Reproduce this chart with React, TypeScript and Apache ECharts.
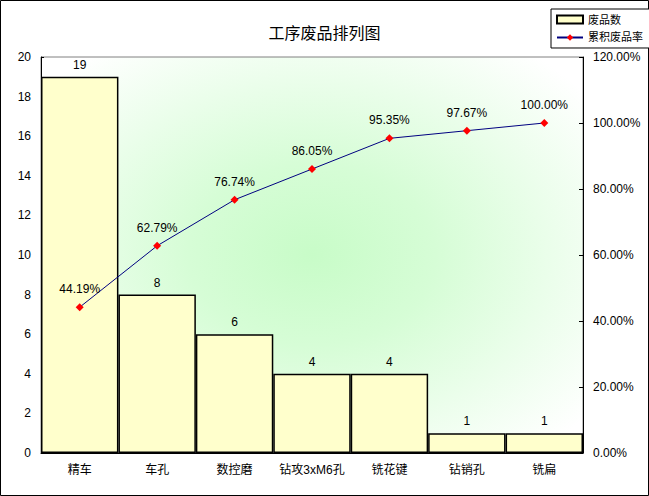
import React, { useEffect, useRef } from "react";
import * as echarts from "echarts";

const categories = ["精车", "车孔", "数控磨", "钻攻3xM6孔", "铣花键", "钻销孔", "铣扁"];
const defectCounts = [19, 8, 6, 4, 4, 1, 1];
const cumulativePct = [44.19, 62.79, 76.74, 86.05, 95.35, 97.67, 100.0];
const countTicks = { min: 0, max: 20, interval: 2 };
const pctTicks = { min: 0, max: 120, interval: 20 };

const FONT = "'Liberation Sans', 'Noto Sans CJK SC', sans-serif";

export default function App() {
  const ref = useRef<HTMLDivElement>(null);
  useEffect(() => {
    if (!ref.current) return;
    const chart = echarts.init(ref.current, undefined, { renderer: "svg" });
    chart.setOption({
      animation: false,
      backgroundColor: "#ffffff",
      textStyle: { fontFamily: FONT, color: "#000" },
      title: {
        text: "工序废品排列图",
        left: "center",
        top: 20,
        textStyle: { fontSize: 16, fontWeight: "normal", color: "#000", fontFamily: FONT },
      },
      legend: {
        orient: "vertical",
        left: 551,
        top: 9,
        backgroundColor: "#fff",
        borderColor: "#000",
        borderWidth: 1,
        padding: [5, 8, 5, 5],
        itemWidth: 26,
        itemHeight: 8,
        itemGap: 7,
        textStyle: { fontSize: 11, color: "#000", fontFamily: FONT },
        data: [{ name: "废品数", icon: "rect" }, { name: "累积废品率" }],
      },
      graphic: [
        {
          type: "rect",
          shape: { x: 0.5, y: 0.5, width: 648, height: 495 },
          style: { fill: "none", stroke: "#000", lineWidth: 1 },
          silent: true,
        },
      ],
      grid: {
        left: 41,
        right: 66,
        top: 57,
        bottom: 43,
        show: true,
        borderColor: "#808080",
        borderWidth: 1,
        backgroundColor: new echarts.graphic.RadialGradient(0.5, 0.5, 0.65, [
          { offset: 0, color: "#c8fcc8" },
          { offset: 0.35, color: "#d6fdd6" },
          { offset: 1, color: "#ffffff" },
        ]),
      },
      xAxis: {
        type: "category",
        data: categories,
        axisLine: { lineStyle: { color: "#000", width: 1 } },
        axisTick: { show: false },
        axisLabel: { color: "#000", fontSize: 12, margin: 11, fontFamily: FONT, interval: 0 },
      },
      yAxis: [
        {
          type: "value",
          min: countTicks.min,
          max: countTicks.max,
          interval: countTicks.interval,
          splitLine: { show: false },
          axisLine: { show: true, lineStyle: { color: "#000", width: 1 } },
          axisTick: { show: true, inside: true, length: 3, lineStyle: { color: "#000" } },
          axisLabel: { color: "#000", fontSize: 12, margin: 10, fontFamily: FONT },
        },
        {
          type: "value",
          min: pctTicks.min,
          max: pctTicks.max,
          interval: pctTicks.interval,
          splitLine: { show: false },
          axisLine: { show: true, lineStyle: { color: "#000", width: 1 } },
          axisTick: { show: true, inside: true, length: 4, lineStyle: { color: "#000" } },
          axisLabel: {
            color: "#000",
            fontSize: 12,
            margin: 10,
            fontFamily: FONT,
            formatter: (v: number) => v.toFixed(2) + "%",
          },
        },
      ],
      series: [
        {
          name: "废品数",
          type: "bar",
          data: defectCounts,
          barWidth: "100%",
          barCategoryGap: "0%",
          itemStyle: { color: "#ffffcc", borderColor: "#000", borderWidth: 1.5 },
          label: {
            show: true,
            position: "top",
            distance: 6,
            color: "#000",
            fontSize: 12,
            fontFamily: FONT,
          },
        },
        {
          name: "累积废品率",
          type: "line",
          yAxisIndex: 1,
          data: cumulativePct,
          symbol: "diamond",
          symbolSize: 8,
          lineStyle: { color: "#000080", width: 1 },
          itemStyle: { color: "#ff0000" },
          label: {
            show: true,
            position: "top",
            distance: 8,
            color: "#000",
            fontSize: 12,
            fontFamily: FONT,
            formatter: (p: any) => (p.value as number).toFixed(2) + "%",
          },
        },
      ],
    });
    return () => chart.dispose();
  }, []);
  return (
    <div
      ref={ref}
      style={{ position: "absolute", left: 0, top: 0, width: 649, height: 496 }}
    />
  );
}
